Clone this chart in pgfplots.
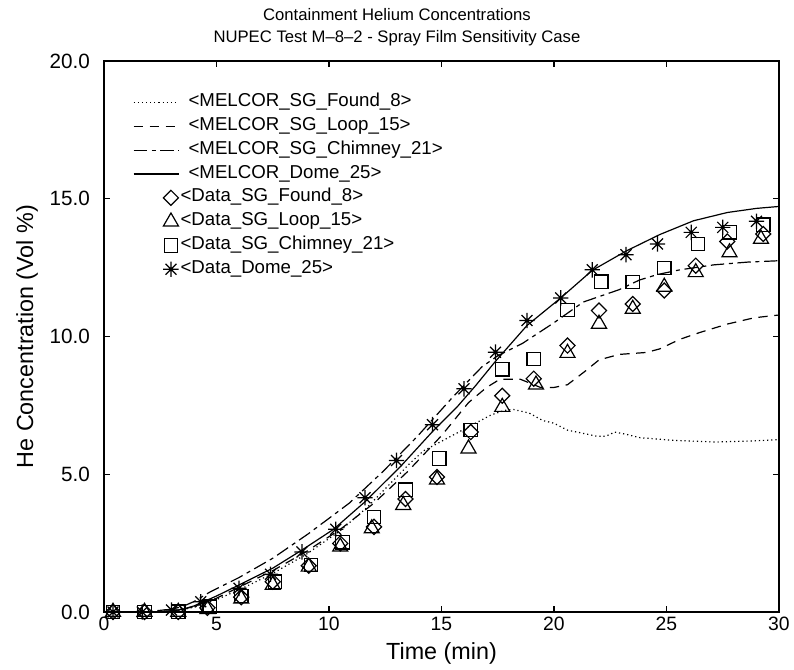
\documentclass[border=0pt]{standalone}
\usepackage{fontspec}
\setmainfont{Liberation Sans}
\usepackage{pgfplots}
\pgfplotsset{compat=1.18}
\pgfdeclareplotmark{star8}{%
  \pgfpathmoveto{\pgfqpoint{-\pgfplotmarksize}{0pt}}\pgfpathlineto{\pgfqpoint{\pgfplotmarksize}{0pt}}%
  \pgfpathmoveto{\pgfqpoint{0pt}{-\pgfplotmarksize}}\pgfpathlineto{\pgfqpoint{0pt}{\pgfplotmarksize}}%
  \pgfpathmoveto{\pgfqpoint{-0.7071\pgfplotmarksize}{-0.7071\pgfplotmarksize}}\pgfpathlineto{\pgfqpoint{0.7071\pgfplotmarksize}{0.7071\pgfplotmarksize}}%
  \pgfpathmoveto{\pgfqpoint{-0.7071\pgfplotmarksize}{0.7071\pgfplotmarksize}}\pgfpathlineto{\pgfqpoint{0.7071\pgfplotmarksize}{-0.7071\pgfplotmarksize}}%
  \pgfusepathqstroke}
\pgfplotsset{
  lineleg/.style={legend image code/.code={\draw[##1] (0pt,0pt) -- (33.75pt,0pt);}},
  markleg/.style={legend image code/.code={\draw[##1] plot coordinates {(28pt,0pt)};}},
}
\begin{document}
\begin{tikzpicture}
\useasboundingbox (-78pt,-43.5pt) rectangle (517.5pt,459pt);
\begin{axis}[
  scale only axis, width=506.25pt, height=413.25pt,
  xmin=0, xmax=30, ymin=0, ymax=20,
  xtick={0,5,...,30}, ytick={0,5,...,20},
  /pgf/number format/assume math mode=true,
  xticklabel style={font=\fontsize{14.5}{17}\selectfont},
  yticklabel style={font=\fontsize{15.5}{18}\selectfont, /pgf/number format/fixed, /pgf/number format/fixed zerofill, /pgf/number format/precision=1, xshift=-7pt},
  major tick length=4.5pt,
  tick style={black, line width=0.8pt},
  axis line style={line width=0.9pt},
  title={Containment Helium Concentrations\\NUPEC Test M--8--2 - Spray Film Sensitivity Case},
  title style={font=\fontsize{12.5}{16.5}\selectfont, align=center, at={(axis description cs:0.434,1)}, anchor=south, yshift=1.5pt},
  xlabel={Time (min)},
  ylabel={He Concentration (Vol \%)},
  label style={font=\fontsize{17.5}{20}\selectfont},
  xlabel style={at={(axis description cs:0.5,0)}, anchor=center, yshift=-31pt},
  ylabel style={at={(axis description cs:-0.114,0.5)}, anchor=center},
  legend style={draw=none, fill=none, at={(axis description cs:0.043,0.946)}, anchor=north west,
    inner sep=0pt, outer sep=0pt, row sep=0pt, column sep=1pt,
    font=\fontsize{14}{17}\selectfont,
    nodes={inner sep=0pt, text height=12pt, text depth=5.85pt}},
  legend cell align=left,
]
% MELCOR_SG_Found_8 (dotted)
\addplot[black, line width=0.9pt, dash pattern=on 0.9pt off 2.2pt, lineleg] coordinates {
(0,0) (2,0) (3,0.02) (3.5,0.08) (4,0.18) (5,0.45) (6,0.8) (7.5,1.4) (9,2.1) (10.5,2.95)
(11.7,3.8) (13.6,5.4) (14.2,5.85) (15.7,6.5) (16.5,6.85) (17.2,7.15) (17.8,7.32) (18.2,7.35)
(18.9,7.22) (19.5,6.95) (20.0,6.85) (20.6,6.6) (21.2,6.5) (21.9,6.38) (22.3,6.38) (22.7,6.53)
(23.2,6.45) (23.8,6.33) (25.3,6.23) (27.2,6.17) (28.9,6.21) (30,6.26)};
\addlegendentry{<MELCOR\_SG\_Found\_8>}
% MELCOR_SG_Loop_15 (dashed)
\addplot[black, line width=0.9pt, dash pattern=on 7pt off 5pt, lineleg] coordinates {
(0,0) (2,0) (3,0.03) (3.5,0.1) (4,0.2) (5,0.5) (6,0.9) (7.5,1.5) (9,2.2) (10.5,3.0) (12,3.95)
(13.5,5.1) (15,6.4) (16.2,7.6) (17.0,8.15) (17.6,8.45) (18.5,8.45) (19.4,8.15) (20.0,8.15)
(20.6,8.25) (21.4,8.75) (22.0,9.15) (22.9,9.35) (24.1,9.42) (24.7,9.55) (25.6,9.9) (26.5,10.15)
(27.7,10.45) (28.9,10.68) (30,10.78)};
\addlegendentry{<MELCOR\_SG\_Loop\_15>}
% MELCOR_SG_Chimney_21 (dash-dot)
\addplot[black, line width=0.9pt, dash pattern=on 10pt off 3.5pt on 3pt off 3.5pt, lineleg] coordinates {
(0,0) (2,0.02) (3,0.1) (3.5,0.2) (4,0.38) (4.7,0.72) (6,1.25) (7.5,1.95) (9.1,2.85) (10.9,3.95)
(12.4,5.1) (13.9,6.35) (15.5,7.8) (16.8,8.9) (17.5,9.3) (18.6,9.75) (20.0,10.5) (21.3,11.25)
(22.9,11.7) (23.8,12.05) (24.6,12.25) (25.6,12.42) (27.1,12.6) (28.6,12.7) (30,12.75)};
\addlegendentry{<MELCOR\_SG\_Chimney\_21>}
% MELCOR_Dome_25 (solid)
\addplot[black, line width=0.9pt, lineleg] coordinates {
(0,0) (2,0) (3,0.03) (3.5,0.1) (4,0.22) (4.5,0.4) (5,0.58) (6,0.98) (7.5,1.59) (8.8,2.25)
(10.2,3.0) (11.6,4.0) (13.2,5.3) (14.6,6.55) (15.7,7.45) (16.5,8.2) (17.4,9.1) (18.8,10.4)
(20.3,11.4) (21.7,12.4) (23.2,13.1) (24.7,13.7) (26.2,14.2) (27.7,14.5) (29,14.65) (30,14.72)};
\addlegendentry{<MELCOR\_Dome\_25>}
% Data_SG_Found_8 (diamond)
\addplot[black, only marks, mark=square, mark size=4pt, mark options={rotate=45}, line width=0.9pt, markleg] coordinates {
(0.4,0) (1.8,0) (3.3,0) (4.6,0.15) (6.1,0.54) (7.5,1.10) (9.1,1.68) (10.5,2.49) (12.0,3.09)
(13.4,4.1) (14.8,4.9) (16.3,6.53) (17.7,7.85) (19.1,8.47) (20.6,9.67) (22.0,10.94) (23.5,11.18)
(24.9,11.67) (26.3,12.57) (27.7,13.45) (29.3,13.72)};
\addlegendentry[xshift=-6pt]{<Data\_SG\_Found\_8>}
% Data_SG_Loop_15 (triangle)
\addplot[black, only marks, mark=triangle, mark size=6.5pt, line width=0.9pt, markleg] coordinates {
(0.4,0) (1.8,0) (3.3,0) (4.6,0.1) (6.1,0.48) (7.5,0.98) (9.1,1.64) (10.5,2.37) (11.9,3.03)
(13.3,3.88) (14.8,4.8) (16.2,5.93) (17.7,7.44) (19.2,8.25) (20.6,9.4) (22.0,10.46) (23.5,11.0)
(24.9,11.8) (26.3,12.33) (27.8,13.05) (29.2,13.54)};
\addlegendentry[xshift=-6pt]{<Data\_SG\_Loop\_15>}
% Data_SG_Chimney_21 (square)
\addplot[black, only marks, mark=square, mark size=5pt, line width=0.9pt, markleg] coordinates {
(0.4,0) (1.8,0) (3.3,0.01) (4.7,0.19) (6.1,0.58) (7.6,1.10) (9.2,1.70) (10.6,2.53) (12.0,3.45)
(13.4,4.44) (14.9,5.57) (16.3,6.6) (17.7,8.81) (19.1,9.19) (20.6,10.97) (22.1,11.99) (23.5,11.97)
(24.9,12.49) (26.4,13.36) (27.8,13.78) (29.3,14.06)};
\addlegendentry[xshift=-6pt]{<Data\_SG\_Chimney\_21>}
% Data_Dome_25 (asterisk)
\addplot[black, only marks, mark=star8, mark size=5.8pt, line width=0.9pt, markleg] coordinates {
(0.4,0) (1.7,0) (3.0,0.07) (4.3,0.37) (6.0,0.86) (7.4,1.37) (8.8,2.18) (10.3,3.0) (11.6,4.15)
(13.0,5.5) (14.6,6.8) (16.0,8.1) (17.4,9.43) (18.8,10.58) (20.3,11.4) (21.7,12.42) (23.2,12.97)
(24.6,13.36) (26.1,13.78) (27.5,13.96) (29.0,14.18)};
\addlegendentry[xshift=-6pt]{<Data\_Dome\_25>}
\end{axis}
\end{tikzpicture}
\end{document}
